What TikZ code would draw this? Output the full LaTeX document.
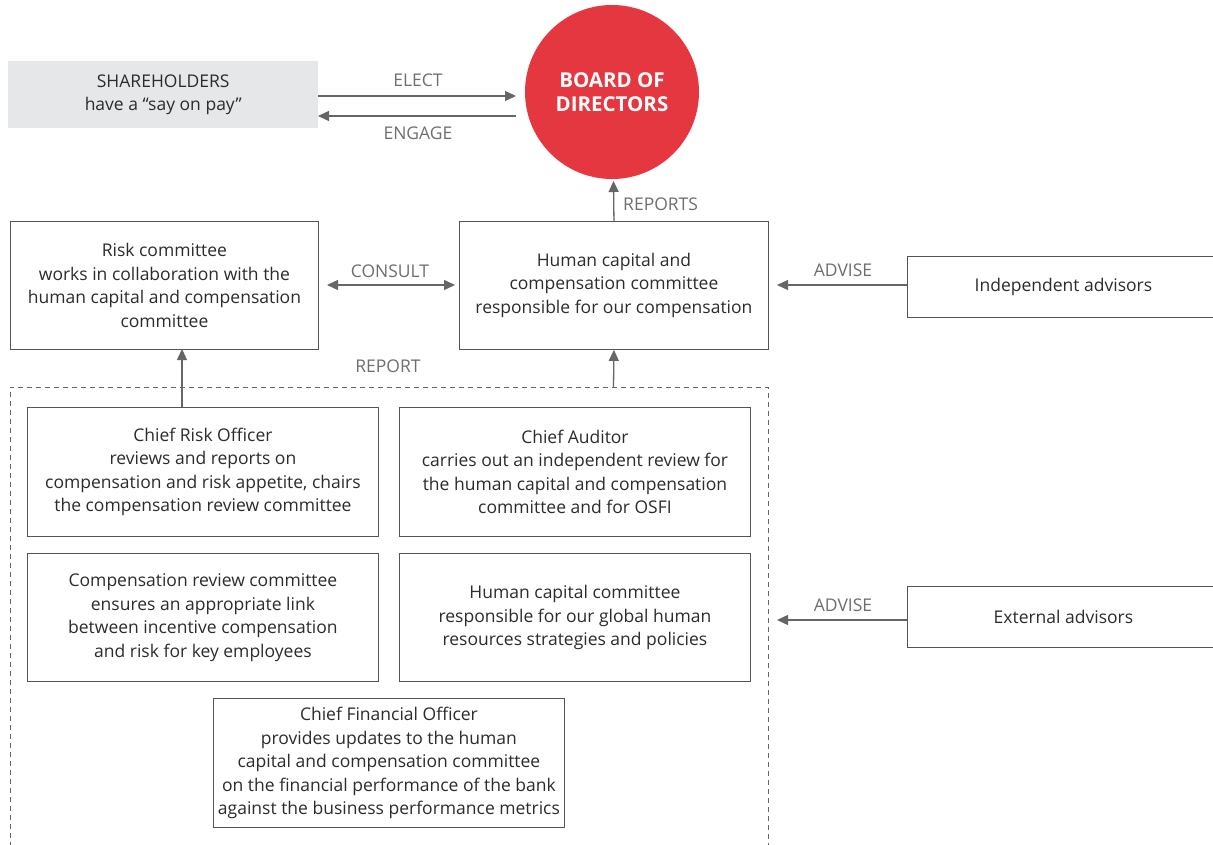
\documentclass[tikz,border=0pt]{standalone}
\usepackage{fontspec}
\setmainfont{Open Sans}
\usetikzlibrary{arrows.meta}
\definecolor{boardred}{HTML}{E4373F}
\definecolor{shgray}{HTML}{E6E7E8}
\definecolor{linegray}{HTML}{555555}
\definecolor{arrgray}{HTML}{666666}
\definecolor{lblgray}{HTML}{6E6E6E}
\definecolor{txt}{HTML}{2B2B2B}
\begin{document}
\begin{tikzpicture}[x=1pt,y=-1pt,
  every node/.style={font=\fontsize{17.5}{23.5}\selectfont, text=txt, inner sep=0pt},
  box/.style={draw=linegray, line width=0.9pt, align=center, anchor=north west},
  lbl/.style={text=lblgray},
  arr/.style={draw=arrgray, line width=1.3pt, -{Triangle[length=11pt,width=10pt]}},
  darr/.style={draw=arrgray, line width=1.3pt, {Triangle[length=11pt,width=10pt]}-{Triangle[length=11pt,width=10pt]}}
]
\useasboundingbox (0,0) rectangle (1213,845);
\clip (0,0) rectangle (1213,845);

% shareholders
\node[fill=shgray, minimum width=310pt, minimum height=67pt, anchor=north west, align=center] (sh) at (8,61) {SHAREHOLDERS\\have a “say on pay”};
% board
\node[circle, fill=boardred, minimum size=174pt, align=center, text=white, font=\fontsize{20.5}{24}\selectfont\bfseries] (bd) at (612,92) {BOARD OF\\DIRECTORS};

\coordinate (e1) at (318,96);  \coordinate (e2) at (516,96);
\coordinate (g1) at (516,116); \coordinate (g2) at (318,116);
\draw[arr] (e1) -- (e2);
\draw[arr] (g1) -- (g2);
\node[lbl] (elect) at (418,80) {ELECT};
\node[lbl] (engage) at (418,133) {ENGAGE};

% risk committee
\node[box, minimum width=308pt, minimum height=128pt] (rc) at (10,221) {Risk committee\\works in collaboration with the\\human capital and compensation\\committee};
% HCC
\node[box, minimum width=309pt, minimum height=128pt] (hcc) at (459,221) {Human capital and\\compensation committee\\responsible for our compensation};

\coordinate (bdb) at (613.5,181);
\draw[arr] (hcc.north) -- (bdb);
\node[lbl, anchor=west] (reports) at (623,204) {REPORTS};

\coordinate (c1) at (327,285); \coordinate (c2) at (455,285);
\draw[darr] (c1) -- (c2);
\node[lbl] (consult) at (390,271) {CONSULT};

% independent advisors
\node[box, minimum width=312pt, minimum height=61pt] (ia) at (907,256) {Independent advisors};
\coordinate (ia1) at (777,285);
\draw[arr] (ia.west |- ia1) -- (ia1);
\node[lbl] (adv1) at (843,270) {ADVISE};

% dashed group
\draw[draw=arrgray, line width=0.9pt, dash pattern=on 5pt off 4pt] (10,1000) -- (10,387) -- (768,387) -- (768,1000);
\node[lbl] (report) at (388,366) {REPORT};
\coordinate (dtop) at (613.5,387);
\draw[arr] (dtop) -- (hcc.south);

% inner boxes
\node[box, minimum width=351pt, minimum height=129pt] (cro) at (27,407) {Chief Risk Officer\\reviews and reports on\\compensation and risk appetite, chairs\\the compensation review committee};
\node[box, minimum width=351pt, minimum height=129pt] (ca) at (399,407) {Chief Auditor\\carries out an independent review for\\the human capital and compensation\\committee and for OSFI};
\node[box, minimum width=351pt, minimum height=128pt] (crc) at (27,553) {Compensation review committee\\ensures an appropriate link\\between incentive compensation\\and risk for key employees};
\node[box, minimum width=351pt, minimum height=128pt] (hc) at (399,553) {Human capital committee\\responsible for our global human\\resources strategies and policies};
\node[box, minimum width=351pt, minimum height=129pt] (cfo) at (213,698) {Chief Financial Officer\\provides updates to the human\\capital and compensation committee\\on the financial performance of the bank\\against the business performance metrics};

\coordinate (rcb) at (182,349);
\coordinate (crot) at (182,407);
\draw[arr] (crot) -- (rcb);

% external advisors
\node[box, minimum width=312pt, minimum height=61pt] (ea) at (907,586) {External advisors};
\coordinate (ea1) at (777,620);
\draw[arr] (ea.west |- ea1) -- (ea1);
\node[lbl] (adv2) at (843,605) {ADVISE};
\end{tikzpicture}
\end{document}
